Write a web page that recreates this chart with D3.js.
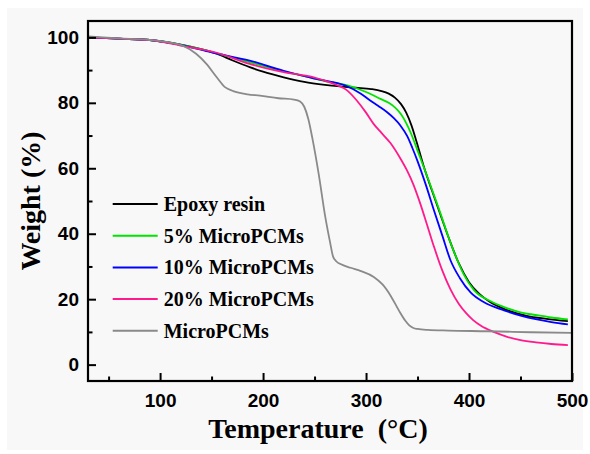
<!DOCTYPE html>
<html>
<head>
<meta charset="utf-8">
<script src="https://cdn.jsdelivr.net/npm/d3@7"></script>
<style>
  body { margin: 0; background: #fff; }
  svg { display: block; }
</style>
</head>
<body>
<svg width="590" height="454"></svg>
<script>
// series data
const epoxyT = [30, 60, 90, 120, 140, 155, 170, 187, 200, 220, 240, 260, 275, 290, 305, 315, 322, 328, 334, 339, 344, 349, 356, 364, 372.5, 380, 390, 400, 410, 420, 435, 455, 475, 496];
const epoxyW = [100, 99.6, 99.2, 97.8, 96.4, 95.0, 93.0, 90.9, 89.5, 87.8, 86.4, 85.5, 85.0, 84.6, 84.2, 83.6, 82.8, 81.6, 79.6, 77.0, 73.2, 68.2, 60.6, 53.2, 45.6, 39.0, 31.0, 25.2, 21.6, 19.2, 16.9, 15.0, 14.0, 13.3];

const pcm5T = [30, 60, 90, 120, 150, 187, 220, 250, 265, 282, 300, 314, 322, 328, 334, 339, 344, 350, 356, 364, 372.5, 380, 388.7, 395, 405, 420, 434, 450, 466, 480, 496];
const pcm5W = [100, 99.6, 99.2, 97.8, 95.6, 92.4, 89.6, 87.4, 86.3, 85.3, 83.3, 81.2, 80.0, 78.6, 76.5, 73.8, 70.4, 65.4, 60.4, 53.5, 46.0, 39.0, 31.9, 27.5, 22.7, 19.5, 17.6, 16.0, 15.1, 14.4, 13.8];

const pcm10T = [30, 60, 90, 120, 150, 187, 220, 250, 265, 282, 295, 304, 312, 320.5, 327, 333.5, 340, 345, 350, 358, 366, 374, 382, 391, 401.7, 415, 434, 450, 466, 480, 496];
const pcm10W = [100, 99.6, 99.2, 97.7, 95.4, 92.9, 89.8, 87.4, 86.5, 85.0, 82.8, 80.7, 79.0, 77.1, 75.3, 73.0, 69.8, 66.2, 62.2, 55.0, 47.1, 39.5, 31.9, 26.5, 22.0, 19.0, 16.6, 15.0, 13.8, 13.0, 12.3];

const pcm20T = [30, 60, 90, 120, 155, 187, 220, 250, 268.6, 281.6, 291, 300, 307.5, 315, 323.7, 333.5, 340, 346, 352, 359, 366, 374, 382, 390, 397, 404, 412, 424, 437, 450, 465, 480, 496];
const pcm20W = [100, 99.6, 99.2, 97.5, 95.3, 91.9, 89.4, 87.7, 85.8, 83.8, 80.7, 77.0, 73.5, 70.8, 67.7, 62.9, 59.2, 55.0, 49.8, 43.0, 36.0, 28.8, 23.0, 18.6, 15.8, 13.6, 11.8, 10.0, 8.5, 7.5, 6.8, 6.3, 5.95];

const microT = [30, 60, 90, 110, 122, 135, 145, 155, 163, 171, 185, 197, 215, 230, 236, 240, 244, 248, 254, 260.5, 265, 268, 271, 277, 285, 295, 307.5, 316, 324, 332, 338, 342, 346, 350, 360, 380, 418, 460, 500];
const microW = [100.3, 99.7, 99.2, 98.4, 97.5, 95.0, 91.9, 87.8, 84.8, 83.6, 82.6, 82.2, 81.4, 81.0, 80.4, 78.8, 75.0, 69.0, 58.3, 45.0, 37.5, 33.0, 31.6, 30.5, 29.6, 28.6, 26.8, 24.5, 21.0, 16.5, 13.5, 12.0, 11.2, 10.9, 10.6, 10.4, 10.2, 9.9, 9.7];

const seriesNames = ["Epoxy resin", "5% MicroPCMs", "10% MicroPCMs", "20% MicroPCMs", "MicroPCMs"];
const seriesColors = ["#000000", "#00e400", "#0000ff", "#ff1a8c", "#8a8a8a"];

const xTicks = [100, 200, 300, 400, 500];
const yTicks = [0, 20, 40, 60, 80, 100];

const series = [
  { name: seriesNames[0], T: epoxyT, W: epoxyW },
  { name: seriesNames[1], T: pcm5T, W: pcm5W },
  { name: seriesNames[2], T: pcm10T, W: pcm10W },
  { name: seriesNames[3], T: pcm20T, W: pcm20W },
  { name: seriesNames[4], T: microT, W: microW }
].map((s, i) => ({ name: s.name, color: seriesColors[i], pts: s.T.map((t, j) => [t, s.W[j]]) }));

const svg = d3.select("svg");
const margin = { top: 21, right: 18, bottom: 73, left: 88 };
const width = 590 - margin.left - margin.right,
      height = 454 - margin.top - margin.bottom;

// pale backdrop panel
svg.append("rect").attr("x", 7).attr("y", 8).attr("width", 576).attr("height", 442).attr("fill", "#f8f8f8");

const g = svg.append("g").attr("transform", `translate(${margin.left},${margin.top})`);

const x = d3.scaleLinear().domain([30, 500]).range([0, width]);
const y = d3.scaleLinear().domain([-5, 105]).range([height, 0]);

const tickFont = "'Liberation Sans', Arial, sans-serif";
const serif = "'Liberation Serif', 'Times New Roman', serif";

// curves
const line = d3.line().x(d => x(d[0])).y(d => y(d[1])).curve(d3.curveMonotoneX);
g.append("g").selectAll("path")
  .data(series)
  .enter()
  .append("path")
  .attr("d", d => line(d.pts))
  .attr("fill", "none")
  .attr("stroke", d => d.color)
  .attr("stroke-width", 1.8);

// axes, ticks pointing inward
const xAxis = g.append("g").attr("transform", `translate(0,${height})`)
  .call(d3.axisBottom(x).tickValues(xTicks).tickSizeInner(-8).tickSizeOuter(0).tickPadding(13));
const xMinor = g.append("g").attr("transform", `translate(0,${height})`)
  .call(d3.axisBottom(x).tickValues([50, 150, 250, 350, 450]).tickSizeInner(-4.5).tickSizeOuter(0).tickFormat(""));
const yAxis = g.append("g")
  .call(d3.axisLeft(y).tickValues(yTicks).tickSizeInner(-8).tickSizeOuter(0).tickPadding(8));
const yMinor = g.append("g")
  .call(d3.axisLeft(y).tickValues([10, 30, 50, 70, 90]).tickSizeInner(-4.5).tickSizeOuter(0).tickFormat(""));

[xAxis, xMinor, yAxis, yMinor].forEach(a => {
  a.select(".domain").remove();
  a.selectAll("line").attr("stroke", "#000").attr("stroke-width", 2);
});
[xAxis, yAxis].forEach(a => {
  a.selectAll("text")
    .style("font-family", tickFont)
    .style("font-size", "19px")
    .style("font-weight", "bold")
    .attr("fill", "#000");
});
yAxis.selectAll("text").attr("dx", "-1px");

// frame
g.append("rect")
  .attr("width", width).attr("height", height)
  .attr("fill", "none").attr("stroke", "#000").attr("stroke-width", 2.2);

// axis titles
svg.append("text")
  .attr("x", 318).attr("y", 438)
  .attr("text-anchor", "middle")
  .style("font-family", serif).style("font-size", "28px").style("font-weight", "bold")
  .text("Temperature\u00a0\u00a0(°C)");

svg.append("text")
  .attr("transform", "translate(40,201) rotate(-90)")
  .attr("text-anchor", "middle")
  .style("font-family", serif).style("font-size", "28px").style("font-weight", "bold")
  .text("Weight (%)");

// legend
const legend = g.append("g").attr("transform", `translate(${112.7 - margin.left},${204 - margin.top})`);
legend.selectAll("g")
  .data(series)
  .enter()
  .append("g")
  .attr("transform", (d, i) => `translate(0,${i * 31.7})`)
  .each(function(d) {
    d3.select(this).append("line")
      .attr("x1", 0).attr("x2", 45)
      .attr("stroke", d.color).attr("stroke-width", 2);
    d3.select(this).append("text")
      .attr("x", 51).attr("y", 7)
      .style("font-family", serif).style("font-size", "20px").style("font-weight", "bold")
      .text(d.name);
  });
</script>
</body>
</html>
